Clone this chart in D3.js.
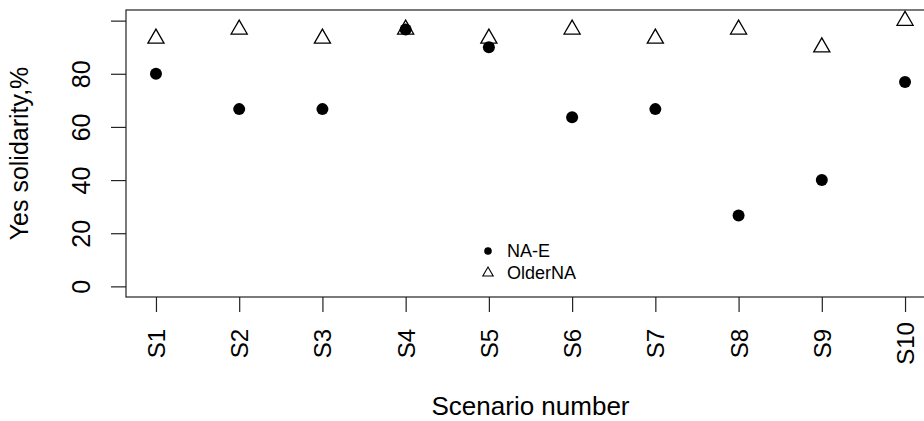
<!DOCTYPE html>
<html>
<head>
<meta charset="utf-8">
<script src="https://cdn.jsdelivr.net/npm/d3@7"></script>
<style>
  body { margin: 0; background: #fff; }
  svg { display: block; font-family: "Liberation Sans", Arial, sans-serif; }
</style>
</head>
<body>
<div id="chart"></div>
<script>
// chart data
var scenarios = ["S1", "S2", "S3", "S4", "S5", "S6", "S7", "S8", "S9", "S10"];
var naE = [80, 66.7, 66.7, 96.7, 90, 63.6, 66.7, 26.7, 40, 76.9];
var olderNA = [93.3, 96.7, 93.3, 96.7, 93.3, 96.7, 93.3, 96.7, 90, 100];
var yTicks = [0, 20, 40, 60, 80, 100];
var yTickLabels = ["0", "20", "40", "60", "80", ""];
var legendNames = ["NA-E", "OlderNA"];

var svgWidth = 924;
var svgHeight = 421;

var svg = d3.select("#chart")
  .append("svg")
    .attr("width", svgWidth)
    .attr("height", svgHeight);

// plot box (right side runs past the window, as in the original)
var box = { left: 126, top: 10, right: 935, bottom: 297 };

var x = d3.scalePoint()
    .domain(scenarios)
    .range([box.left, box.right])
    .padding(0.36);

var y = d3.scaleLinear()
    .domain([-4, 104])
    .range([box.bottom, box.top]);

// triangle like R pch 2
var triangle = r => {
    var h = r * Math.sqrt(3) / 2;
    return `M0,${-r}L${h},${r / 2}L${-h},${r / 2}Z`;
};

// y axis
var leftAxisG = svg.append("g")
    .attr("transform", `translate(${box.left},0)`)
    .call(d3.axisLeft(y)
        .tickValues(yTicks)
        .tickSize(15)
        .tickFormat((d, i) => yTickLabels[i]));

leftAxisG.select(".domain").remove();
leftAxisG.selectAll("line").attr("stroke", "#222").attr("stroke-width", 1.2);
leftAxisG.selectAll("text")
    .attr("x", 0)
    .attr("y", 0)
    .attr("dy", 0)
    .attr("text-anchor", "middle")
    .attr("transform", "translate(-36.5,0) rotate(-90)")
    .attr("font-size", 25)
    .attr("font-family", "Liberation Sans, Arial, sans-serif")
    .attr("fill", "#000");

// x axis
var bottomAxisG = svg.append("g")
    .attr("transform", `translate(0,${box.bottom})`)
    .call(d3.axisBottom(x).tickSize(15));

bottomAxisG.select(".domain").remove();
bottomAxisG.selectAll("line").attr("stroke", "#222").attr("stroke-width", 1.2);
bottomAxisG.selectAll("text")
    .attr("x", 0)
    .attr("y", 0)
    .attr("dy", 0)
    .attr("text-anchor", "middle")
    .attr("transform", "translate(8.5,46.5) rotate(-90)")
    .attr("font-size", 24)
    .attr("font-family", "Liberation Sans, Arial, sans-serif")
    .attr("fill", "#000");

// box
svg.append("rect")
    .attr("x", box.left)
    .attr("y", box.top)
    .attr("width", box.right - box.left)
    .attr("height", box.bottom - box.top)
    .attr("fill", "none")
    .attr("stroke", "#222")
    .attr("stroke-width", 1.2);

// axis titles
svg.append("text")
    .attr("transform", `translate(28,${(box.top + box.bottom) / 2}) rotate(-90)`)
    .attr("text-anchor", "middle")
    .attr("font-size", 25)
    .text("Yes solidarity,%");

svg.append("text")
    .attr("x", (box.left + box.right) / 2)
    .attr("y", 415)
    .attr("text-anchor", "middle")
    .attr("font-size", 26)
    .text("Scenario number");

// points
svg.selectAll(".dot").data(naE)
  .enter().append("circle")
    .attr("class", "dot")
    .attr("cx", (d, i) => x(scenarios[i]))
    .attr("cy", d => y(d))
    .attr("r", 6)
    .attr("fill", "#000");

svg.selectAll(".tri").data(olderNA)
  .enter().append("path")
    .attr("class", "tri")
    .attr("transform", (d, i) => `translate(${x(scenarios[i])},${y(d)})`)
    .attr("d", triangle(9.3))
    .attr("fill", "none")
    .attr("stroke", "#000")
    .attr("stroke-width", 1.3);

// legend
var legend = svg.append("g").attr("transform", "translate(488,251)");

legend.append("circle")
    .attr("cx", 0)
    .attr("cy", 0)
    .attr("r", 3.8)
    .attr("fill", "#000");

legend.append("path")
    .attr("transform", "translate(0,22)")
    .attr("d", triangle(6))
    .attr("fill", "none")
    .attr("stroke", "#000")
    .attr("stroke-width", 1.1);

legend.selectAll(".legend-text").data(legendNames)
  .enter().append("text")
    .attr("class", "legend-text")
    .attr("x", 19)
    .attr("y", (d, i) => i * 22)
    .attr("dy", "0.36em")
    .attr("font-size", 18)
    .text(d => d);
</script>
</body>
</html>
